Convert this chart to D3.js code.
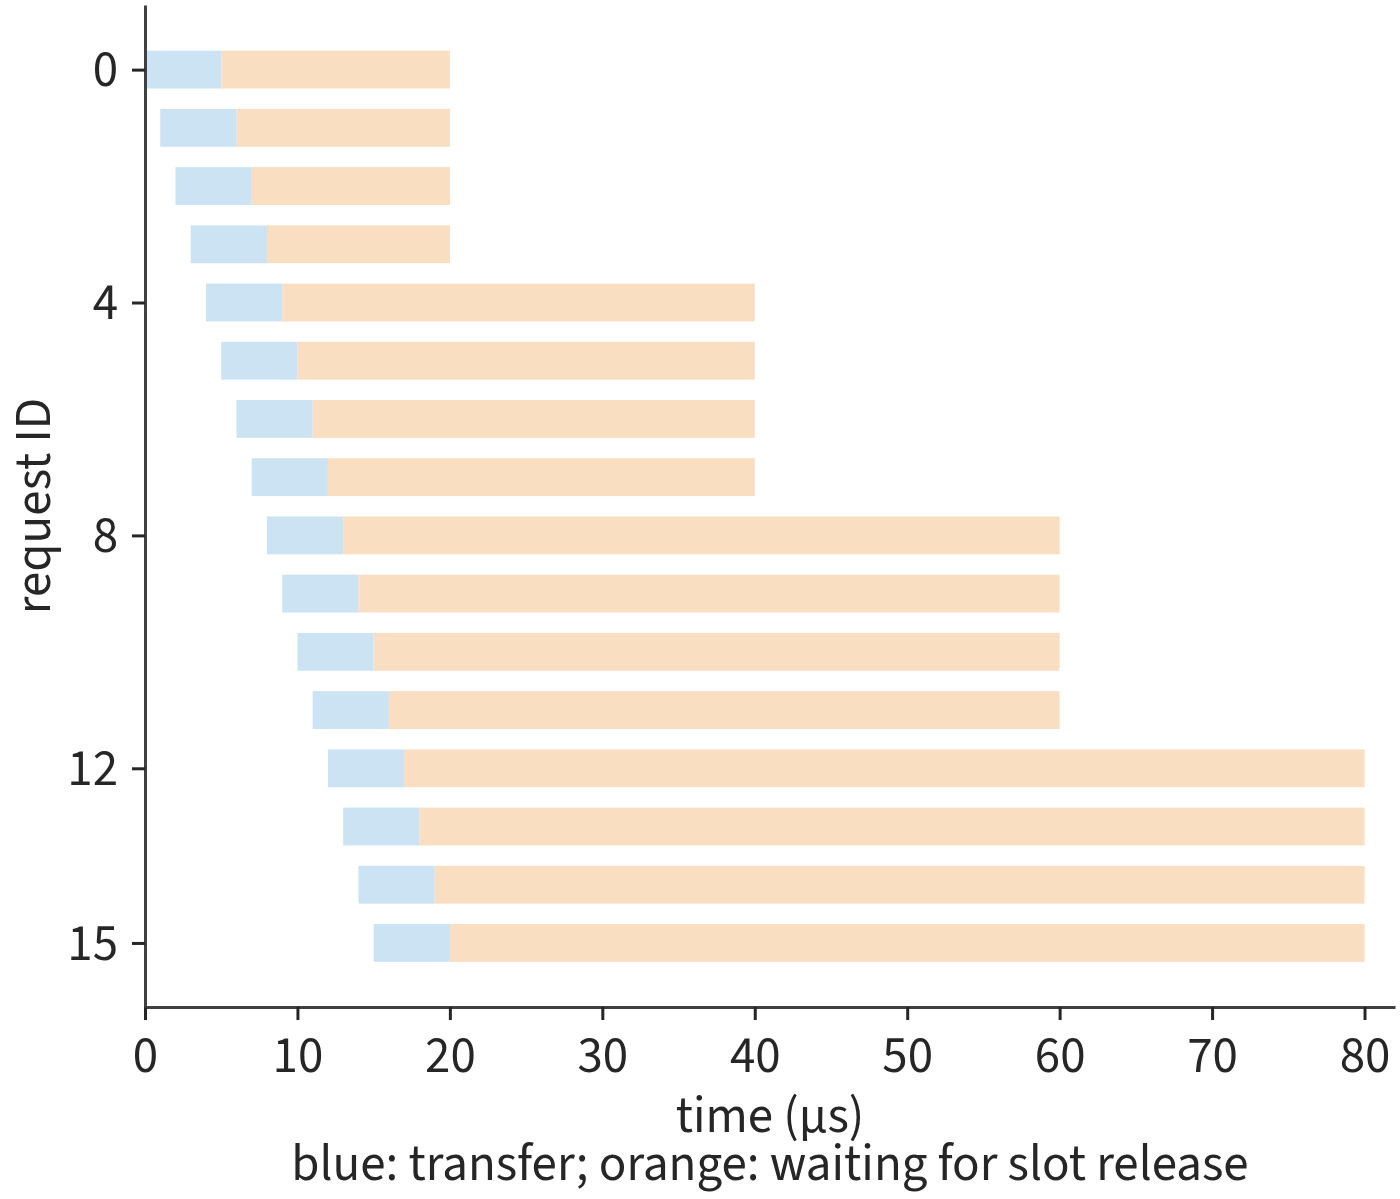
<!DOCTYPE html>
<html>
<head>
<meta charset="utf-8">
<script src="https://cdn.jsdelivr.net/npm/d3@7"></script>
<style>
  body { margin: 0; background: #fff; }
  svg text { font-family: "Source Sans 3", "Source Sans Pro", Lato, sans-serif; fill: #262626; }
</style>
</head>
<body>
<svg id="chart" width="1400" height="1199"></svg>
<script>
// request ids, transfer start, transfer end, slot release
const requestIds = d3.range(16);
const transferStart = [0, 1, 2, 3, 4, 5, 6, 7, 8, 9, 10, 11, 12, 13, 14, 15];
const transferEnd = [5, 6, 7, 8, 9, 10, 11, 12, 13, 14, 15, 16, 17, 18, 19, 20];
const releaseTime = [20, 20, 20, 20, 40, 40, 40, 40, 60, 60, 60, 60, 80, 80, 80, 80];
const xTicks = [0, 10, 20, 30, 40, 50, 60, 70, 80];
const yTicks = [0, 4, 8, 12, 15];

const margin = { left: 145, right: 5, top: 5, bottom: 192 };
const width = 1400, height = 1199;
const barHeight = 0.65;
const fontSize = '51px';

const svg = d3.select('#chart');

const x = d3.scaleLinear()
  .domain([0, 82])
  .range([margin.left, width - margin.right]);

const y = d3.scaleLinear()
  .domain([-1.11, 16.1])
  .range([margin.top, height - margin.bottom]);

const rows = requestIds.map((id, i) => ({
  id: id,
  start: transferStart[i],
  mid: transferEnd[i],
  end: releaseTime[i]
}));

// BARS
const g = svg.append('g').attr('class', 'bars');

g.selectAll('rect.wait')
  .data(rows)
  .enter()
  .append('rect')
  .attr('class', 'wait')
  .attr('x', d => x(d.mid))
  .attr('y', d => y(d.id - barHeight / 2))
  .attr('width', d => x(d.end) - x(d.mid))
  .attr('height', d => y(barHeight) - y(0))
  .attr('fill', '#f9dec1');

g.selectAll('rect.transfer')
  .data(rows)
  .enter()
  .append('rect')
  .attr('class', 'transfer')
  .attr('x', d => x(d.start))
  .attr('y', d => y(d.id - barHeight / 2))
  .attr('width', d => x(d.mid) - x(d.start))
  .attr('height', d => y(barHeight) - y(0))
  .attr('fill', '#cce3f3');

// AXES
const xAxis = svg.append('g')
  .attr('transform', `translate(0,${height - margin.bottom})`)
  .call(d3.axisBottom(x).tickValues(xTicks).tickSize(13).tickSizeOuter(0));

const yAxis = svg.append('g')
  .attr('transform', `translate(${margin.left},0)`)
  .call(d3.axisLeft(y).tickValues(yTicks).tickSize(13).tickPadding(14).tickSizeOuter(0));

[xAxis, yAxis].forEach(a => {
  a.select('.domain').attr('stroke', '#404040').attr('stroke-width', 3);
  a.selectAll('.tick line').attr('stroke', '#262626').attr('stroke-width', 3);
  a.selectAll('.tick text').style('font-size', fontSize).attr('fill', '#262626');
});
yAxis.selectAll('.tick text').attr('dy', '0.32em');
xAxis.selectAll('.tick text').attr('y', 65).attr('dy', 0);

// LABELS
const cx = (x.range()[0] + x.range()[1]) / 2;

svg.append('text')
  .attr('x', cx)
  .attr('y', 1132)
  .attr('text-anchor', 'middle')
  .style('font-size', fontSize)
  .text('time (µs)');

svg.append('text')
  .attr('x', cx)
  .attr('y', 1180)
  .attr('text-anchor', 'middle')
  .style('font-size', fontSize)
  .text('blue: transfer; orange: waiting for slot release');

svg.append('text')
  .attr('transform', `translate(50,${(y.range()[0] + y.range()[1]) / 2}) rotate(-90)`)
  .attr('text-anchor', 'middle')
  .style('font-size', fontSize)
  .text('request ID');
</script>
</body>
</html>
